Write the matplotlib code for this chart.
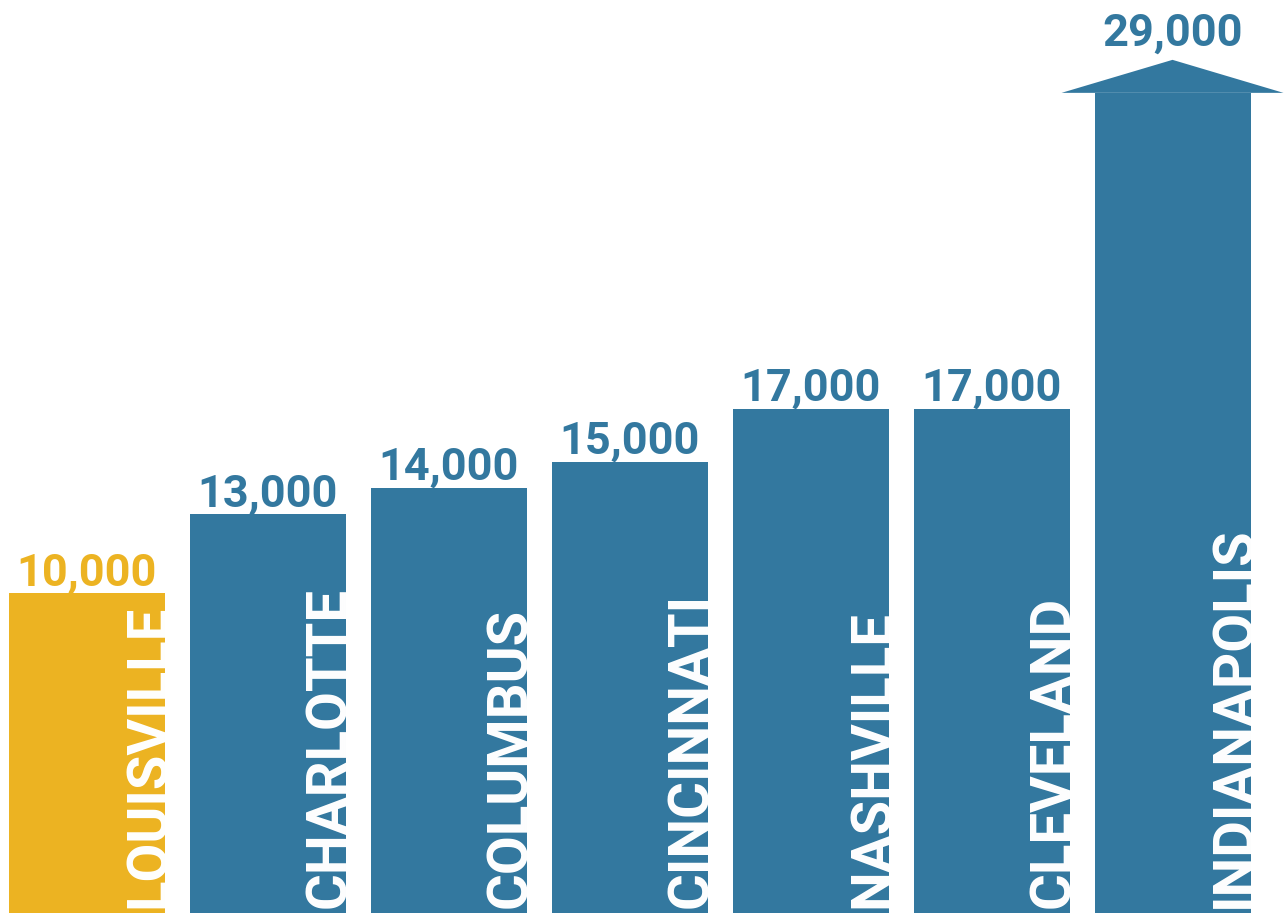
import matplotlib
matplotlib.use("Agg")
import matplotlib.pyplot as plt
from matplotlib.patches import Polygon

cities = ["LOUISVILLE", "CHARLOTTE", "COLUMBUS", "CINCINNATI", "NASHVILLE", "CLEVELAND", "INDIANAPOLIS"]
values = [10000, 13000, 14000, 15000, 17000, 17000, 29000]
value_labels = ["10,000", "13,000", "14,000", "15,000", "17,000", "17,000", "29,000"]

GOLD = "#ECB322"
BLUE = "#33789F"
colors = [GOLD] + [BLUE] * 6

plt.rcParams['font.family'] = ['Roboto', 'DejaVu Sans']

fig = plt.figure(figsize=(12.86, 9.13), dpi=100)
ax = fig.add_axes([0, 0, 1, 1])
ax.set_axis_off()

base = -2137
ax.set_xlim(-0.478, 6.627)
ax.set_ylim(base, 32525)

width = 0.862
x = list(range(len(cities)))
ax.bar(x, [v - base for v in values], bottom=base, width=width, color=colors, linewidth=0)

# arrow head on the last (off-scale) bar
last = len(cities) - 1
hw, hh = 0.613, 1253
ax.add_patch(Polygon([(x[last] - hw, values[last]), (x[last], values[last] + hh),
                      (x[last] + hw, values[last])], closed=True, color=BLUE, lw=0,
                     clip_on=False))

px = 0.72  # points per pixel at 100 dpi
for i, (xi, v, lab, c) in enumerate(zip(x, values, value_labels, colors)):
    top = v + (hh if i == last else 0)
    gap = 14 if i == last else 8
    ax.annotate(lab, xy=(xi, top), xytext=(0, gap * px), textcoords='offset points',
                ha='center', va='baseline', fontsize=32.5, fontweight='bold', color=c)
    ax.annotate(cities[i], xy=(xi + width / 2, base), xytext=(0, 5 * px),
                textcoords='offset points', rotation=90, rotation_mode='anchor',
                ha='left', va='baseline', fontsize=40.5, fontweight='bold', color='white')

fig.savefig("out.png", dpi=100, facecolor='white')
